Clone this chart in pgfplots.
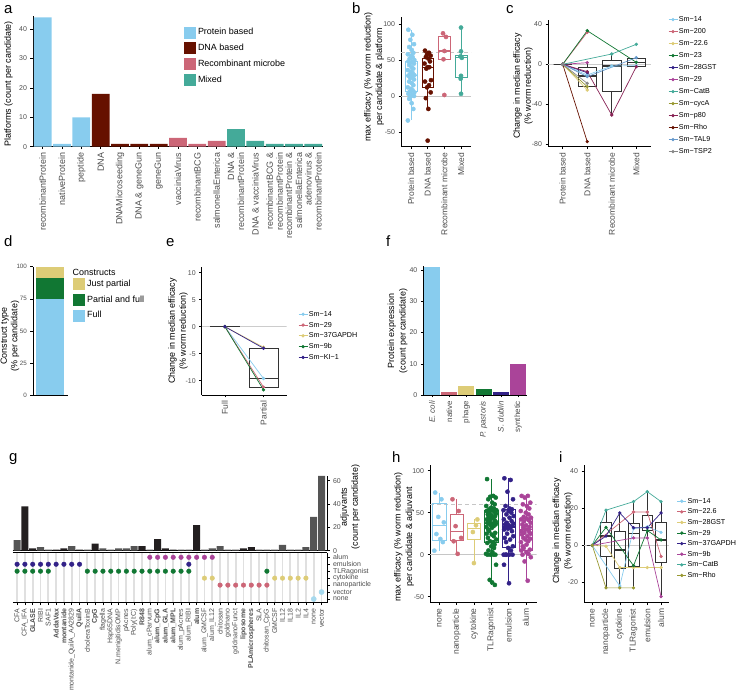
\documentclass[border=0pt]{standalone}
\usepackage{pgfplots}
\pgfplotsset{compat=1.18}
\usepgfplotslibrary{statistics}
\usepackage{fontspec}
\setmainfont{Liberation Sans}
\setsansfont{Liberation Sans}
\definecolor{cCyan}{HTML}{88CCEE}
\definecolor{cRose}{HTML}{CC6677}
\definecolor{cSand}{HTML}{DDCC77}
\definecolor{cGreen}{HTML}{117733}
\definecolor{cIndigo}{HTML}{332288}
\definecolor{cPurple}{HTML}{AA4499}
\definecolor{cTeal}{HTML}{44AA99}
\definecolor{cOlive}{HTML}{999933}
\definecolor{cWine}{HTML}{882255}
\definecolor{cBrown}{HTML}{661100}
\definecolor{cBlue}{HTML}{6699CC}
\definecolor{cGrey}{HTML}{888888}
\definecolor{cLight}{HTML}{A6D9EE}
\definecolor{barDark}{HTML}{231F20}
\definecolor{barGrey}{HTML}{555555}
\definecolor{tickgray}{HTML}{4D4D4D}
\newcommand\fTk{\fontsize{7}{8}\selectfont}
\newcommand\fLb{\fontsize{9}{11}\selectfont}
\newcommand\fCat{\fontsize{8.5}{10}\selectfont}
\newcommand\fLg{\fontsize{7.2}{8.5}\selectfont}
\pgfplotsset{
  gg/.style={
    scale only axis, anchor=south west,
    axis x line*=bottom, axis y line*=left,
    tick align=outside, major tick length=2.5bp,
    tick style={black, line width=0.5bp},
    axis line style={black, line width=0.6bp},
    tick label style={font=\fTk, text=tickgray},
    /pgf/number format/assume math mode=true,
    legend cell align=left,
  },
  catx/.style={xticklabel style={rotate=90, anchor=east, font=#1, text=tickgray, align=right}},
  sq/.style={legend image code/.code={\fill[##1, draw=none] (0bp,-6bp) rectangle (12bp,6bp);}},
  ln/.style={legend image code/.code={\draw[mark repeat=2,mark phase=2,##1] plot coordinates {(0bp,0bp) (4.5bp,0bp) (9bp,0bp)};}},
  bx/.style={boxplot/draw direction=y, boxplot prepared={#1, whisker extend=0, every median/.style={line width=1.2bp}}},
  sqleg/.style={legend style={draw=none, fill=none, at={#1}, anchor=north west, inner sep=0pt, font=\fLb, row sep=3.7bp, nodes={inner sep=0.5bp, text height=6.5bp, text depth=2bp}}},
  lnleg/.style 2 args={legend style={draw=none, fill=none, at={#1}, anchor=north west, inner sep=0pt, font=\fLg, row sep=#2, nodes={inner sep=1bp, text height=5.5bp, text depth=1.5bp}}},
  sl/.style={line width=0.7bp, mark=*, mark size=1.3bp},
}
\begin{document}
\begin{tikzpicture}
\path[use as bounding box] (0,0) rectangle (738bp,691bp);

% ---------------- panel a
\begin{axis}[gg, at={(33bp,544.3bp)}, width=290bp, height=130.7bp,
  xmin=-0.5, xmax=14.5, ymin=0, ymax=44.5, ytick={0,10,20,30,40},
  xtick={0,...,14}, catx=\fontsize{9}{10}\selectfont,
  xticklabels={recombinantProtein, nativeProtein, peptide, DNA, DNAMicroseeding, DNA \& geneGun, geneGun, vacciniaVirus, recombinantBCG, salmonellaEnterica, {DNA \&\\recombinantProtein}, DNA \& vacciniaVirus, {recombinantBCG \&\\recombinantProtein}, {recombinantProtein \&\\salmonellaEnterica}, {adenovirus \&\\recombinantProtein}},
  sqleg={(0.52,0.92)}]
\addplot[ybar, bar width=0.92, bar shift=0pt, fill=cCyan, draw=none, forget plot] coordinates {(0,44)(1,1)(2,10)};
\addplot[ybar, bar width=0.92, bar shift=0pt, fill=cBrown, draw=none, forget plot] coordinates {(3,18)(4,1)(5,1)(6,1)};
\addplot[ybar, bar width=0.92, bar shift=0pt, fill=cRose, draw=none, forget plot] coordinates {(7,3)(8,1)(9,2)};
\addplot[ybar, bar width=0.92, bar shift=0pt, fill=cTeal, draw=none, forget plot] coordinates {(10,6)(11,2)(12,1)(13,1)(14,1)};
\addlegendimage{sq, fill=cCyan}\addlegendentry{\hspace{1.5bp}Protein based}
\addlegendimage{sq, fill=cBrown}\addlegendentry{\hspace{1.5bp}DNA based}
\addlegendimage{sq, fill=cRose}\addlegendentry{\hspace{1.5bp}Recombinant microbe}
\addlegendimage{sq, fill=cTeal}\addlegendentry{\hspace{1.5bp}Mixed}
\end{axis}

% ---------------- panel b
\begin{axis}[gg, at={(401bp,544.3bp)}, width=70bp, height=129.7bp,
  xmin=0.4, xmax=4.6, ymin=-70.4, ymax=109.7, ytick={-50,0,50,100},
  xtick={1,2,3,4}, catx=\fCat, xticklabels={Protein based, DNA based, Recombinant microbe, Mixed}]
\addplot[gray!45, line width=0.6bp] coordinates {(0.4,0)(4.6,0)};
\addplot[gray!45, line width=0.6bp, dash pattern=on 4bp off 3bp] coordinates {(0.4,60)(4.6,60)};
\addplot[draw=cCyan, line width=0.6bp, bx={draw position=1, box extend=0.7, lower whisker=-34, lower quartile=6, median=28, upper quartile=48, upper whisker=92}] coordinates {};
\addplot[draw=cBrown, line width=0.6bp, bx={draw position=2, box extend=0.7, lower whisker=-18, lower quartile=12, median=40, upper quartile=52, upper whisker=63}] coordinates {};
\addplot[draw=cRose, line width=0.6bp, bx={draw position=3, box extend=0.7, lower whisker=51, lower quartile=51, median=62.5, upper quartile=83, upper whisker=87}] coordinates {};
\addplot[draw=cTeal, line width=0.6bp, bx={draw position=4, box extend=0.7, lower whisker=3, lower quartile=26.4, median=53.7, upper quartile=57, upper whisker=95}] coordinates {};
\addplot[only marks, mark=*, mark size=2.1bp, cCyan] coordinates {
(0.84,92)(1.08,85)(0.96,78)(1.18,72)(0.89,68)(1.04,64)(1.14,60)(0.81,58)(1.00,56)(1.10,54)(0.92,52)(1.20,50)
(0.84,48)(1.08,47)(0.96,46)(1.18,45)(0.89,43)(1.04,40)(1.14,38)(0.81,36)(1.00,34)(1.10,32)(0.92,30)(1.20,29)
(0.84,28)(1.08,27)(0.96,25)(1.18,23)(0.89,20)(1.04,18)(1.14,15)(0.81,12)(1.00,10)(1.10,8)(0.92,6)(1.20,5)
(0.84,3)(1.08,1)(0.96,0)(1.18,0)(0.89,-4)(1.04,-10)(1.14,-18)(0.81,-34)};
\addplot[only marks, mark=*, mark size=2.1bp, cBrown] coordinates {
(1.84,63)(2.08,60)(1.96,58)(2.18,56)(1.89,54)(2.04,52)(2.14,48)(1.81,45)(2.00,40)(2.10,40)(1.92,38)(2.20,22)(1.84,20)(2.08,15)(1.96,12)(2.18,5)(1.89,-3)(2.04,-18)(2.00,-62)};
\addplot[only marks, mark=*, mark size=2.1bp, cRose] coordinates {(2.92,87)(3.10,82)(3.00,62.5)(2.95,51)(3.00,1.4)};
\addplot[only marks, mark=*, mark size=2.1bp, cTeal] coordinates {(4.00,95)(4.00,62)(3.97,55)(4.05,53)(4.00,28)(3.98,24)(4.00,3)};
\end{axis}

% ---------------- panel c
\begin{axis}[gg, ln, at={(548bp,544.3bp)}, width=103bp, height=126.7bp,
  xmin=0.4, xmax=4.6, ymin=-82.4, ymax=44.3, ytick={-80,-40,0,40},
  xtick={1,2,3,4}, catx=\fCat, xticklabels={Protein based, DNA based, Recombinant microbe, Mixed},
  lnleg={(1.165,1.04)}{3.0bp}]
\addplot[gray!40, line width=0.6bp, forget plot] coordinates {(0.4,0)(4.6,0)};
\addplot[draw=black!80, line width=0.6bp, forget plot, bx={draw position=1, box extend=0.75, lower whisker=0, lower quartile=0, median=0, upper quartile=0, upper whisker=0}] coordinates {};
\addplot[draw=black!80, line width=0.6bp, forget plot, bx={draw position=2, box extend=0.75, lower whisker=-25.7, lower quartile=-21.7, median=-11.7, upper quartile=-3.4, upper whisker=1.6}] coordinates {};
\addplot[draw=black!80, line width=0.6bp, forget plot, bx={draw position=3, box extend=0.75, lower whisker=-51.4, lower quartile=-26.7, median=-1.7, upper quartile=3.6, upper whisker=11}] coordinates {};
\addplot[draw=black!80, line width=0.6bp, forget plot, bx={draw position=4, box extend=0.75, lower whisker=-3, lower quartile=-1.7, median=2, upper quartile=6, upper whisker=6}] coordinates {};
\addplot[cCyan, sl] coordinates {(1,0)(2,-10.7)(3,-1.7)(4,-1.4)}; \addlegendentry{Sm−14}
\addplot[cRose, sl] coordinates {(1,0)(2,32)}; \addlegendentry{Sm−200}
\addplot[cSand, sl] coordinates {(1,0)(2,-25.7)}; \addlegendentry{Sm−22.6}
\addplot[cGreen, sl] coordinates {(1,0)(2,33.6)(4,2)}; \addlegendentry{Sm−23}
\addplot[cIndigo, sl] coordinates {(1,0)(2,-8.4)}; \addlegendentry{Sm−28GST}
\addplot[cPurple, sl] coordinates {(1,0)(2,1.6)}; \addlegendentry{Sm−29}
\addplot[cTeal, sl] coordinates {(1,0)(3,10.3)(4,20)}; \addlegendentry{Sm−CatB}
\addplot[cOlive, sl] coordinates {(1,0)(2,-22.4)}; \addlegendentry{Sm−cycA}
\addplot[cWine, sl] coordinates {(1,0)(2,-7.4)(3,-50.7)(4,-2.4)}; \addlegendentry{Sm−p80}
\addplot[cBrown, sl] coordinates {(1,0)(2,-77.4)}; \addlegendentry{Sm−Rho}
\addplot[cBlue, sl] coordinates {(1,0)(2,-12.4)(4,6.6)}; \addlegendentry{Sm−TAL9}
\addplot[cGrey, sl] coordinates {(1,0)(2,-19)}; \addlegendentry{Sm−TSP2}
\end{axis}

% ---------------- panel d
\begin{axis}[gg, at={(33bp,296bp)}, width=35bp, height=128.3bp,
  xmin=-0.6, xmax=0.64, ymin=0, ymax=100, ytick={0,25,50,75,100}, xtick=\empty,
  yticklabel style={font=\fontsize{6.3}{7}\selectfont},
  sqleg={(1.143,0.912)}]
\addplot[ybar, bar width=1, bar shift=0pt, fill=cSand, draw=none, forget plot] coordinates {(0,100)};
\addplot[ybar, bar width=1, bar shift=0pt, fill=cGreen, draw=none, forget plot] coordinates {(0,91)};
\addplot[ybar, bar width=1, bar shift=0pt, fill=cCyan, draw=none, forget plot] coordinates {(0,75)};
\addlegendimage{sq, fill=cSand}\addlegendentry{\hspace{1.5bp}Just partial}
\addlegendimage{sq, fill=cGreen}\addlegendentry{\hspace{1.5bp}Partial and full}
\addlegendimage{sq, fill=cCyan}\addlegendentry{\hspace{1.5bp}Full}
\end{axis}
\node[font=\fLb, anchor=west, inner sep=0pt] at (72.5bp,691bp-272bp) {Constructs};

% ---------------- panel e
\begin{axis}[gg, ln, at={(201.7bp,296bp)}, width=85bp, height=128.3bp,
  xmin=0.4, xmax=2.6, ymin=-12.65, ymax=11.1, ytick={-10,-5,0,5,10},
  xtick={1,2}, catx=\fCat, xticklabels={Full, Partial},
  lnleg={(1.133,0.666)}{1.8bp}]
\addplot[gray!40, line width=0.6bp, forget plot] coordinates {(0.4,0)(2.6,0)};
\addplot[draw=black!80, line width=0.6bp, forget plot, bx={draw position=1, box extend=0.76, lower whisker=0, lower quartile=0, median=0, upper quartile=0, upper whisker=0}] coordinates {};
\addplot[draw=black!80, line width=0.6bp, forget plot, bx={draw position=2, box extend=0.76, lower whisker=-11.7, lower quartile=-11.3, median=-9.6, upper quartile=-4.0, upper whisker=-3.8}] coordinates {};
\addplot[cCyan, sl] coordinates {(1,0)(2,-9.6)}; \addlegendentry{Sm−14}
\addplot[cRose, sl] coordinates {(1,0)(2,-11.2)}; \addlegendentry{Sm−29}
\addplot[cSand, sl] coordinates {(1,0)(2,-3.8)}; \addlegendentry{Sm−37GAPDH}
\addplot[cGreen, sl] coordinates {(1,0)(2,-11.7)}; \addlegendentry{Sm−9b}
\addplot[cIndigo, sl] coordinates {(1,0)(2,-4.0)}; \addlegendentry{Sm−KI−1}
\end{axis}

% ---------------- panel f
\begin{axis}[gg, at={(423.3bp,296bp)}, width=103.4bp, height=129bp,
  xmin=-0.5, xmax=5.5, ymin=0, ymax=41.3, ytick={0,10,20,30,40},
  xtick={0,...,5}, catx=\fontsize{8}{9}\selectfont,
  xticklabels={\textit{E. coli}, native, phage, \textit{P. pastoris}, \textit{S. dublin}, synthetic}]
\addplot[ybar, bar width=0.92, bar shift=0pt, fill=cCyan, draw=none] coordinates {(0,41)};
\addplot[ybar, bar width=0.92, bar shift=0pt, fill=cRose, draw=none] coordinates {(1,1)};
\addplot[ybar, bar width=0.92, bar shift=0pt, fill=cSand, draw=none] coordinates {(2,3)};
\addplot[ybar, bar width=0.92, bar shift=0pt, fill=cGreen, draw=none] coordinates {(3,2)};
\addplot[ybar, bar width=0.92, bar shift=0pt, fill=cIndigo, draw=none] coordinates {(4,1)};
\addplot[ybar, bar width=0.92, bar shift=0pt, fill=cPurple, draw=none] coordinates {(5,10)};
\end{axis}

% ---------------- panel g (upper bars)
\begin{axis}[gg, axis y line*=right, at={(12.8bp,140.3bp)}, width=314.2bp, height=74.7bp,
  xmin=-0.55, xmax=39.7, ymin=0, ymax=64, ytick={0,20,40,60}, xtick=\empty]
\addplot[ybar, bar width=0.9, bar shift=0pt, fill=barGrey, draw=none] coordinates {
(0,9)(3,3)(4,1)(7,4)(9,1)(11,2)(12,1)(13,2)(14,2)(15,4)(17,1)(21,1)(22,1)(24,1)(25,2)(26,4)(27,1)(28,1)(31,1)(32,1)(33,1)(34,5)(35,1)(36,1)(37,3)(38,29)(39,64)};
\addplot[ybar, bar width=0.9, bar shift=0pt, fill=barDark, draw=none] coordinates {
(1,38)(2,2)(5,1)(6,2)(8,1)(10,6)(16,4)(18,10)(19,2)(20,1)(23,22)(29,2)(30,3)};
\end{axis}

% ---------------- panel g (lower matrix)
\begin{axis}[gg, axis y line*=right, at={(12.8bp,88.3bp)}, width=314.2bp, height=50bp,
  xmin=-0.55, xmax=39.7, ymin=0.47, ymax=7.66,
  ytick={1,...,7}, yticklabels={none,vector,nanoparticle,cytokine,TLRagonist,emulsion,alum},
  xtick={0,...,39}, catx=\fTk,
  xticklabels={CFA, CFA\_IFA, \textbf{GLASE}, RIBI, SAF1, \textbf{AddaVax}, \textbf{montanide}, montanide\_QuilA\_AA2829, \textbf{QuilA}, choleraToxinB, \textbf{CpG}, flagella, Hsp65DNA, N.menigitidisOMP, pAcnes, {Poly(I:C)}, \textbf{R848}, alum\_cParvum, \textbf{alum\_CpG}, \textbf{alum\_GLA}, \textbf{alum\_MPL}, alum\_pAcnes, alum\_RIBI, \textbf{alum}, alum\_GMCSF, alum\_IL12, chitosan, goldnano, goldnanoFunct, \textbf{liposome}, \textbf{PLAmicrospheres}, SLA, chitosan\_CpG, GMCSF, IL12, IL18, IL2, IL4, none, vector},
  xmajorgrids, grid style={line width=1.8bp, black!12}]
\draw[black, line width=0.6bp] (rel axis cs:0,1) -- (rel axis cs:1,1);
\addplot[only marks, mark=*, mark size=2.3bp, cPurple] coordinates {(17,7)(18,7)(19,7)(20,7)(21,7)(22,7)(23,7)(24,7)(25,7)};
\addplot[only marks, mark=*, mark size=2.3bp, cIndigo] coordinates {(0,6)(1,6)(2,6)(3,6)(4,6)(5,6)(6,6)(7,6)(8,6)(22,6)};
\addplot[only marks, mark=*, mark size=2.3bp, cGreen] coordinates {(0,5)(1,5)(2,5)(3,5)(4,5)(9,5)(10,5)(11,5)(12,5)(13,5)(14,5)(15,5)(16,5)(17,5)(18,5)(19,5)(20,5)(21,5)(22,5)(32,5)};
\addplot[only marks, mark=*, mark size=2.3bp, cSand] coordinates {(24,4)(25,4)(33,4)(34,4)(35,4)(36,4)(37,4)};
\addplot[only marks, mark=*, mark size=2.3bp, cRose] coordinates {(26,3)(27,3)(28,3)(29,3)(30,3)(31,3)(32,3)};
\addplot[only marks, mark=*, mark size=2.6bp, cLight] coordinates {(39,2)(38,1)};
\end{axis}

% ---------------- panel h
\begin{axis}[gg, at={(430bp,88.7bp)}, width=106.7bp, height=137.3bp,
  xmin=0.46, xmax=6.63, ymin=-56.7, ymax=106.8, ytick={-50,0,50,100},
  xtick={1,...,6}, catx=\fCat, xticklabels={none, nanoparticle, cytokine, TLRagonist, emulsion, alum}]
\addplot[gray!45, line width=0.6bp] coordinates {(0.46,0)(6.63,0)};
\addplot[gray!45, line width=0.6bp, dash pattern=on 4bp off 3bp] coordinates {(0.46,60)(6.63,60)};
\addplot[draw=cCyan, line width=0.6bp, bx={draw position=1, box extend=0.77, lower whisker=4.8, lower quartile=17.5, median=35, upper quartile=61, upper whisker=74}] coordinates {};
\addplot[draw=cRose, line width=0.6bp, bx={draw position=2, box extend=0.77, lower whisker=1, lower quartile=17.5, median=28, upper quartile=48, upper whisker=66}] coordinates {};
\addplot[draw=cSand, line width=0.6bp, bx={draw position=3, box extend=0.77, lower whisker=-10, lower quartile=18.7, median=31, upper quartile=37, upper whisker=42}] coordinates {};
\addplot[draw=cGreen, line width=0.6bp, bx={draw position=4, box extend=0.77, lower whisker=-36, lower quartile=14.7, median=37, upper quartile=53, upper whisker=90}] coordinates {};
\addplot[draw=cIndigo, line width=0.6bp, bx={draw position=5, box extend=0.77, lower whisker=-34, lower quartile=8.7, median=33, upper quartile=54, upper whisker=91}] coordinates {};
\addplot[draw=cPurple, line width=0.6bp, bx={draw position=6, box extend=0.77, lower whisker=-30, lower quartile=5.6, median=30, upper quartile=43, upper whisker=72}] coordinates {};
\addplot[only marks, mark=*, mark size=2.1bp, cCyan] coordinates {(0.76,74)(1.12,66)(0.94,45)(1.26,38.5)(0.83,24.6)(1.06,18.7)(1.20,15)(0.71,4.8)};
\addplot[only marks, mark=*, mark size=2.1bp, cRose] coordinates {(1.76,66)(2.12,52)(1.94,34)(2.26,20)(1.83,16)(2.06,1)};
\addplot[only marks, mark=*, mark size=2.1bp, cSand] coordinates {(3.20,42)(3.12,35)(2.94,27)(3.00,-10)};
\addplot[only marks, mark=*, mark size=2.1bp, cGreen] coordinates {
(3.76,90)(4.12,70)(3.94,69)(4.26,68)(3.83,66)(4.06,62)(4.20,60)(3.71,58)(4.00,56)(4.16,55)(3.88,54)(4.30,53)
(4.06,53)(3.73,52)(4.18,51)(3.90,50)(4.28,49)(3.80,48)(4.02,47)(4.22,46)(3.85,45)(4.10,44)(3.97,43)(3.75,42)
(4.20,41)(3.92,40)(4.27,39)(3.78,38)(4.09,37)(3.86,37)(4.25,36)(3.98,35)(4.14,34)(3.72,33)(4.04,32)(3.82,30)
(3.88,28)(4.23,26)(3.74,25)(4.03,24)(4.15,22)(3.81,20)(4.29,18)(3.93,16)(4.11,15)(3.77,14)(4.19,12)(4.00,10)
(4.16,8)(3.84,5)(4.07,3)(3.70,1)(4.24,0)(3.96,0)(4.13,0)(3.79,0)(4.28,-12)(3.91,-30)(4.05,-33)(4.21,-36)};
\addplot[only marks, mark=*, mark size=2.1bp, cIndigo] coordinates {
(4.76,91)(5.12,89)(4.94,75)(5.26,66)(4.83,58)(5.06,55)(5.20,54)(4.71,53)(5.00,52)(5.16,50)(4.88,48)(5.30,46)
(5.06,44)(4.73,42)(5.18,40)(4.90,38)(5.28,37)(4.80,36)(5.02,35)(5.22,34)(4.85,33)(5.10,32)(4.97,31)(4.75,30)
(5.20,28)(4.92,25)(5.27,22)(4.78,20)(5.09,18)(4.86,15)(5.25,10)(4.98,8)(5.14,5)(4.72,0)(5.04,0)(4.82,0)
(4.88,0)(5.23,0)(4.74,-12)(5.03,-34)};
\addplot[only marks, mark=*, mark size=2.1bp, cPurple] coordinates {
(5.76,70)(6.12,70)(5.94,68)(6.26,62)(5.83,60)(6.06,58)(6.20,55)(5.71,52)(6.00,50)(6.16,48)(5.88,45)(6.30,44)
(6.06,43)(5.73,42)(6.18,41)(5.90,40)(6.28,38)(5.80,36)(6.02,35)(6.22,33)(5.85,32)(6.10,30)(5.97,30)(5.75,28)
(6.20,27)(5.92,26)(6.27,25)(5.78,24)(6.09,22)(5.86,20)(6.25,19)(5.98,18)(6.14,16)(5.72,15)(6.04,12)(5.82,10)
(5.88,8)(6.23,6)(5.74,5)(6.03,3)(6.15,1)(5.81,0)(6.29,-3)(5.93,-8)(6.11,-31)};
\end{axis}

% ---------------- panel i
\begin{axis}[gg, ln, at={(584bp,88.3bp)}, width=85.3bp, height=137.7bp,
  xmin=0.4, xmax=6.6, ymin=-31, ymax=43.4, ytick={-20,0,20,40},
  xtick={1,...,6}, catx=\fCat, xticklabels={none, nanoparticle, cytokine, TLRagonist, emulsion, alum},
  lnleg={(1.087,0.771)}{1.6bp}]
\addplot[gray!40, line width=0.6bp, forget plot] coordinates {(0.4,0)(6.6,0)};
\addplot[draw=black!80, line width=0.6bp, forget plot, bx={draw position=1, box extend=0.78, lower whisker=0, lower quartile=0, median=0, upper quartile=0, upper whisker=0}] coordinates {};
\addplot[draw=black!80, line width=0.6bp, forget plot, bx={draw position=2, box extend=0.78, lower whisker=-23, lower quartile=-6.1, median=5, upper quartile=12.3, upper whisker=19}] coordinates {};
\addplot[draw=black!80, line width=0.6bp, forget plot, bx={draw position=3, box extend=0.78, lower whisker=-23, lower quartile=-12.4, median=-2.5, upper quartile=7.4, upper whisker=17.5}] coordinates {};
\addplot[draw=black!80, line width=0.6bp, forget plot, bx={draw position=4, box extend=0.78, lower whisker=-23, lower quartile=-11.5, median=6.5, upper quartile=11.9, upper whisker=23.6}] coordinates {};
\addplot[draw=black!80, line width=0.6bp, forget plot, bx={draw position=5, box extend=0.78, lower whisker=4, lower quartile=8.3, median=9.7, upper quartile=16.4, upper whisker=29}] coordinates {};
\addplot[draw=black!80, line width=0.6bp, forget plot, bx={draw position=6, box extend=0.78, lower whisker=-27.7, lower quartile=-9.4, median=2.9, upper quartile=12.3, upper whisker=23.6}] coordinates {};
\addplot[cCyan, sl] coordinates {(1,0)(3,-22)(4,9)(5,10)(6,7)}; \addlegendentry{Sm−14}
\addplot[cRose, sl] coordinates {(1,0)(4,18)(5,18)(6,-6)}; \addlegendentry{Sm−22.6}
\addplot[cSand, sl] coordinates {(1,0)(2,-0.5)(3,-12)(4,-12)(5,-12)(6,-12)}; \addlegendentry{Sm−28GST}
\addplot[cGreen, sl] coordinates {(1,0)(2,9.7)(4,-11)(5,8)(6,2.9)}; \addlegendentry{Sm−29}
\addplot[cIndigo, sl] coordinates {(1,0)(2,5)(3,17.5)(4,9.5)(5,9.5)(6,17.5)}; \addlegendentry{Sm−37GAPDH}
\addplot[cPurple, sl] coordinates {(1,0)(4,4)(5,4)(6,-27.7)}; \addlegendentry{Sm−9b}
\addplot[cTeal, sl] coordinates {(1,0)(2,19)(4,23.6)(5,29)(6,23.6)}; \addlegendentry{Sm−CatB}
\addplot[cOlive, sl] coordinates {(1,0)(2,-23)(3,-23)(4,-23)}; \addlegendentry{Sm−Rho}
\end{axis}

% ---------------- titles and panel letters
\node[rotate=90, font=\fLb] at (8.5bp,691bp-84bp) {Platforms (count per candidate)};
\node[rotate=90, font=\fontsize{9}{11.5}\selectfont, align=center] at (374bp,691bp-77bp) {max efficacy (\% worm reduction)\\per candidate \& platform};
\node[rotate=90, font=\fLb, align=center] at (523bp,691bp-86bp) {Change in median efficacy\\(\% worm reduction)};
\node[rotate=90, font=\fontsize{9}{10.5}\selectfont, align=center] at (10bp,691bp-336bp) {Construct type\\(\% per candidate)};
\node[rotate=90, font=\fLb, align=center] at (178bp,691bp-331bp) {Change in median efficacy\\(\% worm reduction)};
\node[rotate=90, font=\fontsize{9}{11.5}\selectfont, align=center] at (397.5bp,691bp-331bp) {Protein expression\\(count per candidate)};
\node[rotate=90, font=\fLb, align=center] at (350bp,691bp-507bp) {adjuvants\\(count per candidate)};
\node[rotate=90, font=\fontsize{9}{11.5}\selectfont, align=center] at (404bp,691bp-537bp) {max efficacy (\% worm reduction)\\per candidate \& adjuvant};
\node[rotate=90, font=\fontsize{9}{11.5}\selectfont, align=center] at (562.5bp,691bp-531bp) {Change in median efficacy\\(\% worm reduction)};
\node[font=\fontsize{15}{15}\selectfont, anchor=base west, inner sep=0pt] at (4bp,691bp-13.3bp) {a};
\node[font=\fontsize{15}{15}\selectfont, anchor=base west, inner sep=0pt] at (352bp,691bp-13.3bp) {b};
\node[font=\fontsize{15}{15}\selectfont, anchor=base west, inner sep=0pt] at (506bp,691bp-13.3bp) {c};
\node[font=\fontsize{15}{15}\selectfont, anchor=base west, inner sep=0pt] at (4bp,691bp-246.7bp) {d};
\node[font=\fontsize{15}{15}\selectfont, anchor=base west, inner sep=0pt] at (166bp,691bp-246.7bp) {e};
\node[font=\fontsize{15}{15}\selectfont, anchor=base west, inner sep=0pt] at (386bp,691bp-246.7bp) {f};
\node[font=\fontsize{15}{15}\selectfont, anchor=base west, inner sep=0pt] at (9bp,691bp-462bp) {g};
\node[font=\fontsize{15}{15}\selectfont, anchor=base west, inner sep=0pt] at (392bp,691bp-463bp) {h};
\node[font=\fontsize{15}{15}\selectfont, anchor=base west, inner sep=0pt] at (559bp,691bp-463bp) {i};
\end{tikzpicture}
\end{document}
